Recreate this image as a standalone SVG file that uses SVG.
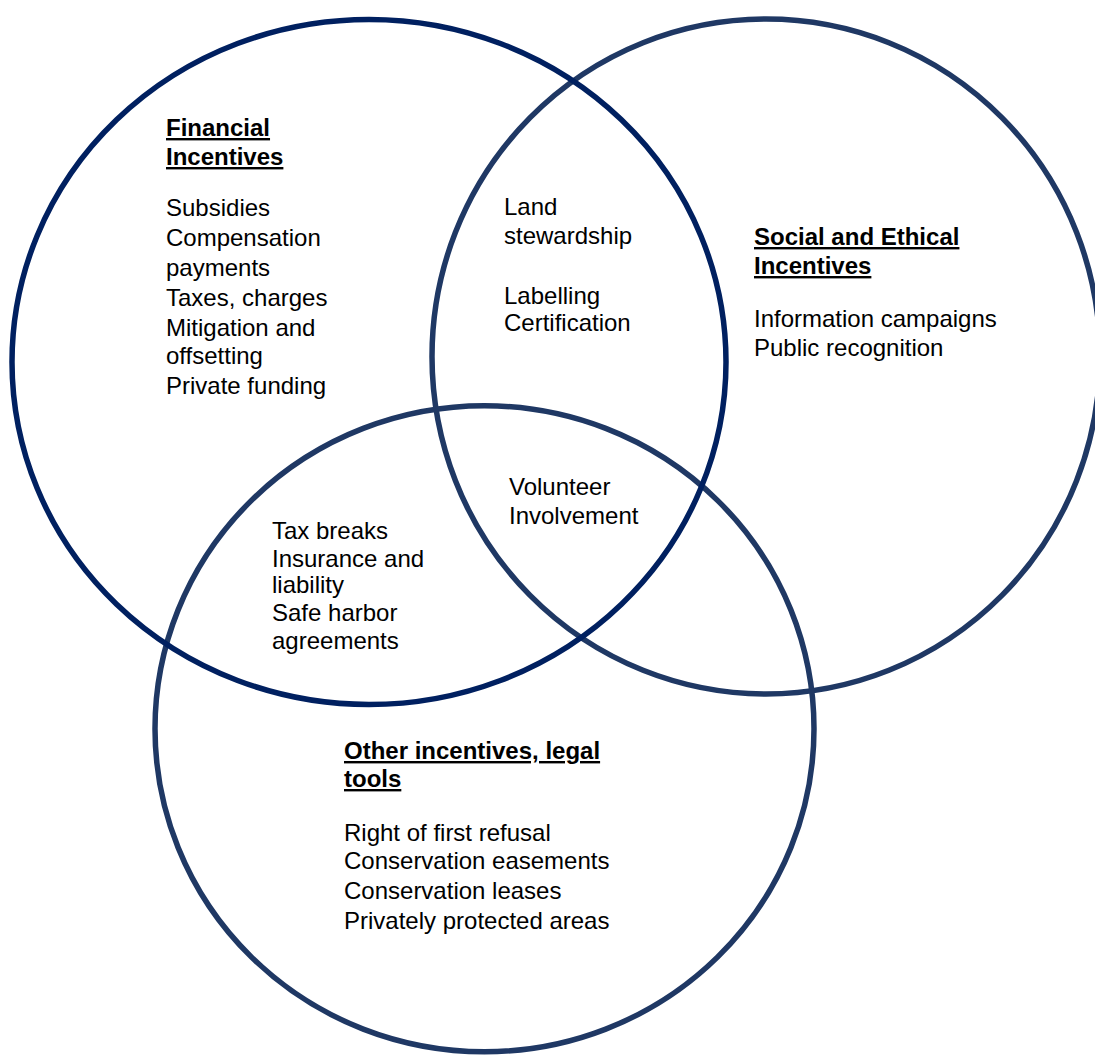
<svg xmlns="http://www.w3.org/2000/svg" width="1095" height="1055" viewBox="0 0 1095 1055">
  <style>
    .ring { fill: none; stroke-width: 5.5; }
    .fin { stroke: #002060; }
    .soc { stroke: #1F3864; }
    .oth { stroke: #1F3864; }
    text { font-family: "Liberation Sans", Arial, sans-serif; font-size: 24px; fill: #000; }
    .head { font-weight: bold; text-decoration: underline; }
  </style>
  <rect width="1095" height="1055" fill="#fff"/>

  <!-- three overlapping sets -->
  <g id="social-circle">
    <ellipse class="ring soc" cx="766" cy="356.5" rx="334" ry="337.5"/>
  </g>
  <g id="other-circle">
    <ellipse class="ring oth" cx="484.5" cy="728.75" rx="329.5" ry="323"/>
  </g>
  <g id="financial-circle">
    <ellipse class="ring fin" cx="369" cy="362" rx="357" ry="342.5"/>
  </g>

  <g id="connectors"></g>

  <!-- Financial only -->
  <g id="financial-label">
    <text class="head" x="166" y="136">Financial</text>
    <text class="head" x="166" y="165">Incentives</text>
    <text x="166" y="216">Subsidies</text>
    <text x="166" y="246">Compensation</text>
    <text x="166" y="276">payments</text>
    <text x="166" y="306">Taxes, charges</text>
    <text x="166" y="336">Mitigation and</text>
    <text x="166" y="364">offsetting</text>
    <text x="166" y="394">Private funding</text>
  </g>

  <!-- Financial ∩ Social -->
  <g id="financial-social">
    <text x="504" y="215">Land</text>
    <text x="504" y="244">stewardship</text>
    <text x="504" y="304">Labelling</text>
    <text x="504" y="331">Certification</text>
  </g>

  <!-- Social only -->
  <g id="social-label">
    <text class="head" x="754" y="245">Social and Ethical</text>
    <text class="head" x="754" y="274">Incentives</text>
    <text x="754" y="327">Information campaigns</text>
    <text x="754" y="356">Public recognition</text>
  </g>

  <!-- all three -->
  <g id="center">
    <text x="509" y="495">Volunteer</text>
    <text x="509" y="524">Involvement</text>
  </g>

  <!-- Financial ∩ Other -->
  <g id="financial-other">
    <text x="272" y="539">Tax breaks</text>
    <text x="272" y="567">Insurance and</text>
    <text x="272" y="593">liability</text>
    <text x="272" y="621">Safe harbor</text>
    <text x="272" y="649">agreements</text>
  </g>

  <!-- Other only -->
  <g id="other-label">
    <text class="head" x="344" y="759">Other incentives, legal</text>
    <text class="head" x="344" y="787">tools</text>
    <text x="344" y="841">Right of first refusal</text>
    <text x="344" y="869">Conservation easements</text>
    <text x="344" y="899">Conservation leases</text>
    <text x="344" y="929">Privately protected areas</text>
  </g>
</svg>
